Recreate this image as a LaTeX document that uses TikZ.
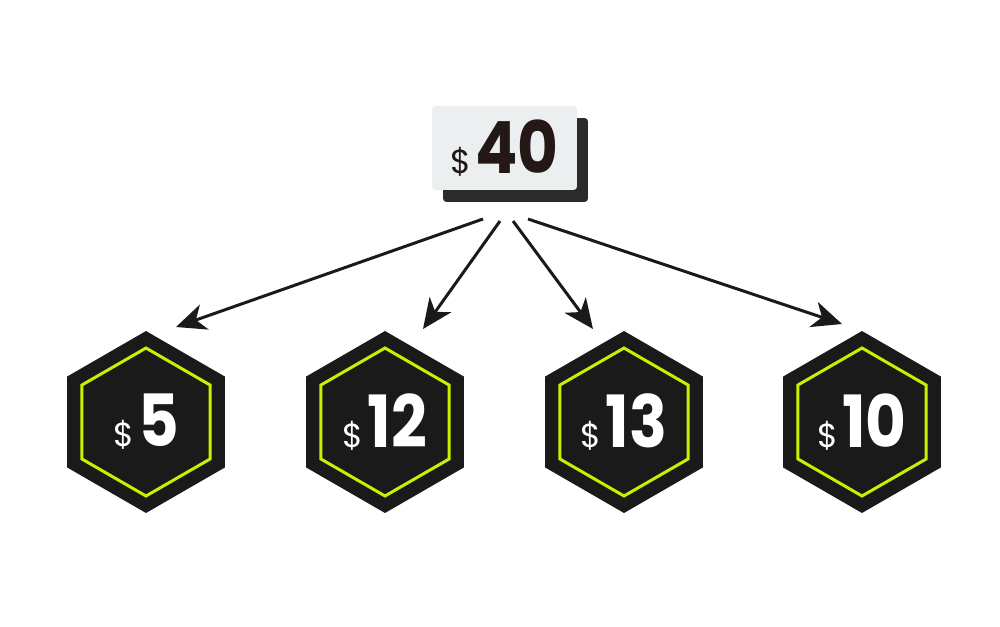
\documentclass[tikz,border=0pt]{standalone}
\usepackage{fontspec}
\setmainfont{Poppins}
\newfontfamily\numfont[FakeStretch=0.87]{Poppins}
\usetikzlibrary{arrows.meta, positioning, shapes.geometric}
\definecolor{cardgray}{HTML}{ECEFF0}
\definecolor{cardshadow}{HTML}{2B2B2B}
\definecolor{inkdark}{HTML}{231815}
\definecolor{hexblack}{HTML}{1A1A1A}
\definecolor{hexgreen}{HTML}{C8F000}
\newcommand{\price}[1]{{\fontsize{19}{19}\selectfont\$}\hspace{2.5pt}{\numfont\fontsize{41}{41}\selectfont\bfseries #1}}

\begin{document}
\begin{tikzpicture}[x=0.02cm, y=-0.02cm,
    card/.style={rectangle, rounded corners=2pt, minimum width=2.9cm, minimum height=1.68cm, inner sep=0pt},
    hexout/.style={regular polygon, regular polygon sides=6, shape border rotate=30, fill=hexblack, minimum size=3.64cm, inner sep=0pt},
    hexin/.style={regular polygon, regular polygon sides=6, shape border rotate=30, draw=hexgreen, line width=1.7pt, minimum size=2.96cm, inner sep=0pt, text=white},
    split/.style={-{Stealth[length=17pt, width=15pt, inset=5pt]}, line width=1.7pt, draw=hexblack}]
        \useasboundingbox (0,0) rectangle (1000,626);

        % Total card with its shadow
        \node[card, fill=cardshadow] (shadow) at (515.5,160) {};
        \node[card, fill=cardgray, text=inkdark] (total) at (504.5,148) {\price{40}};

        % Hexagon 1
        \node[hexout] (hexa) at (146,422) {};
        \node[hexin] (parta) at (hexa) {\price{5}};

        % Hexagon 2
        \node[hexout] (hexb) at (385,422) {};
        \node[hexin] (partb) at (hexb) {\price{12}};

        % Hexagon 3
        \node[hexout] (hexc) at (624,422) {};
        \node[hexin] (partc) at (hexc) {\price{13}};

        % Hexagon 4
        \node[hexout] (hexd) at (862,422) {};
        \node[hexin] (partd) at (hexd) {\price{10}};

        % Arrow ends
        \coordinate (froma) at (483,219);
        \coordinate (toa) at (176,327);
        \coordinate (fromb) at (500,221);
        \coordinate (tob) at (423,329);
        \coordinate (fromc) at (513,221);
        \coordinate (toc) at (593,329);
        \coordinate (fromd) at (528,219);
        \coordinate (tod) at (842,324);

        % Arrows
        \draw[split] (froma) -- (toa);
        \draw[split] (fromb) -- (tob);
        \draw[split] (fromc) -- (toc);
        \draw[split] (fromd) -- (tod);
\end{tikzpicture}
\end{document}
